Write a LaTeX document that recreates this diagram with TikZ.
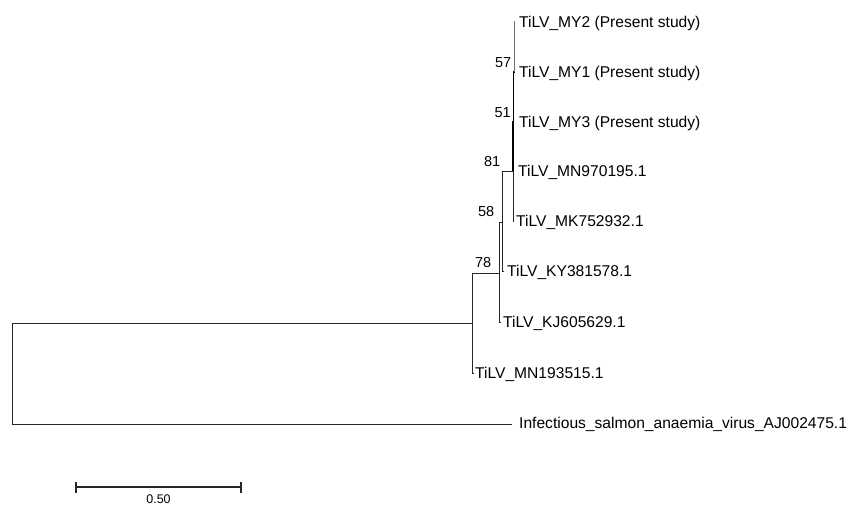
\documentclass[tikz,border=0pt]{standalone}
\usepackage{fontspec}
\setmainfont{Liberation Sans}
\begin{document}
\begin{tikzpicture}[x=1pt,y=-1pt,
  branch/.style={line width=0.95pt, line cap=rect, draw=black!85},
  thickbranch/.style={line width=1.7pt, draw=black},
  graybranch/.style={line width=0.95pt, draw=black!55},
  leaflabel/.style={anchor=base west, inner sep=0pt, font=\fontsize{15.6}{18}\selectfont},
  boot/.style={anchor=base east, inner sep=0pt, font=\fontsize{14.5}{17}\selectfont},
  scalelabel/.style={anchor=north, inner sep=0pt, font=\fontsize{12.5}{14}\selectfont}]
\useasboundingbox (0,0) rectangle (851,507);

% tree nodes
\coordinate (rootTop) at (12.5,323);
\coordinate (rootBot) at (12.5,424);
\coordinate (nIn) at (472,323);
\coordinate (nInTop) at (472,273);
\coordinate (nInBot) at (472,373);
\coordinate (n78) at (499,273);
\coordinate (n78Top) at (499,222);
\coordinate (n78Bot) at (499,322);
\coordinate (n58) at (502.5,222);
\coordinate (n58Top) at (502.5,171);
\coordinate (n58Bot) at (502.5,271);
\coordinate (n81) at (513,171);
\coordinate (n81Bot) at (513,221);
\coordinate (n51) at (513.5,122);
\coordinate (n57) at (514,72);
\coordinate (n57Top) at (514,20.5);

% leaf ends
\coordinate (eISAV) at (512,424);
\coordinate (eMN193) at (473.5,373);
\coordinate (eKJ) at (500.5,322);
\coordinate (eKY) at (504,271);
\coordinate (eMK) at (513.5,221);

% branches
\draw[branch] (rootTop) -- (rootBot);
\draw[branch] (rootTop) -- (nIn);
\draw[branch] (rootBot) -- (eISAV);
\draw[branch] (nInTop) -- (nInBot);
\draw[branch] (nInBot) -- (eMN193);
\draw[branch] (nInTop) -- (n78);
\draw[branch] (n78Top) -- (n78Bot);
\draw[branch] (n78Bot) -- (eKJ);
\draw[branch] (n78Top) -- (n58);
\draw[branch] (n58Top) -- (n58Bot);
\draw[branch] (n58Bot) -- (eKY);
\draw[branch] (n58Top) -- (n81);
\draw[branch] (n81) -- (n81Bot);
\draw[branch] (n81Bot) -- (eMK);
\draw[thickbranch] (n81) -- (513,122) -- (n51) -- (513.5,72) -- (n57);
\draw[graybranch] (n57) -- (n57Top);

% leaf labels
\node[leaflabel] (tMY2) at (519,27.6) {TiLV\_MY2 (Present study)};
\node[leaflabel] (tMY1) at (519,77.6) {TiLV\_MY1 (Present study)};
\node[leaflabel] (tMY3) at (519,127.1) {TiLV\_MY3 (Present study)};
\node[leaflabel] (tMN970) at (518,176.6) {TiLV\_MN970195.1};
\node[leaflabel] (tMK) at (516,226.6) {TiLV\_MK752932.1};
\node[leaflabel] (tKY) at (507,276.6) {TiLV\_KY381578.1};
\node[leaflabel] (tKJ) at (503,327.6) {TiLV\_KJ605629.1};
\node[leaflabel] (tMN193) at (475,378.6) {TiLV\_MN193515.1};
\node[leaflabel] (tISAV) at (519,428.6) {Infectious\_salmon\_anaemia\_virus\_AJ002475.1};

% bootstrap values
\node[boot] (b57) at (511.5,67) {57};
\node[boot] (b51) at (511,117) {51};
\node[boot] (b81) at (500.5,166) {81};
\node[boot] (b58) at (494.5,216.5) {58};
\node[boot] (b78) at (491.5,267) {78};

% scale bar
\coordinate (sbL) at (76,487);
\coordinate (sbR) at (241,487);
\draw[line width=1.2pt, draw=black!85] (sbL) -- (sbR);
\draw[line width=1.2pt, draw=black!85] (76,481.5) -- (76,493);
\draw[line width=1.2pt, draw=black!85] (241,481.5) -- (241,493);
\node[scalelabel] (sbText) at (158.5,495) {0.50};
\end{tikzpicture}
\end{document}
